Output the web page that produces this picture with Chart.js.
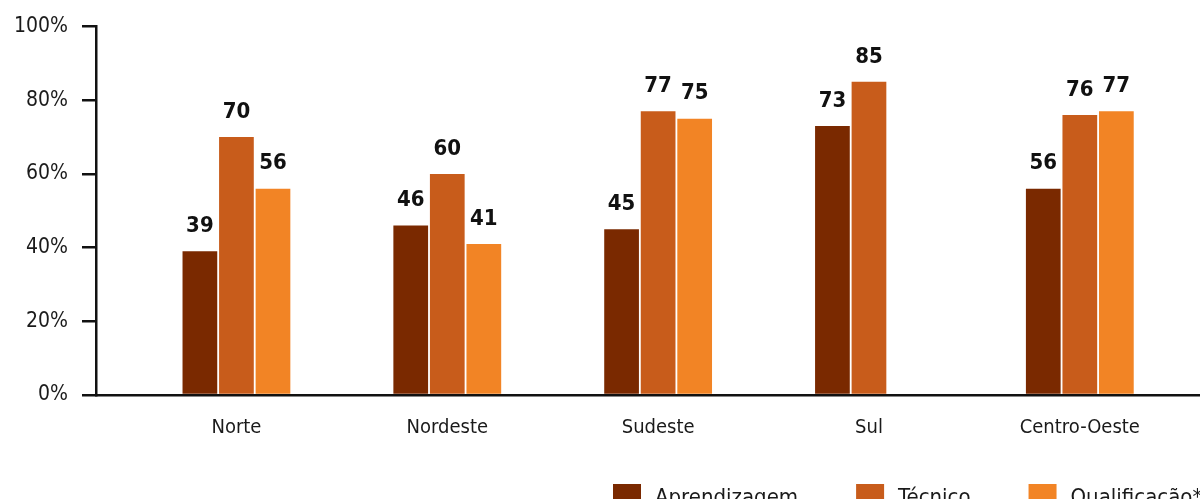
<!DOCTYPE html>
<html lang="pt">
<head>
<meta charset="utf-8">
<script src="https://cdn.jsdelivr.net/npm/chart.js@4"></script>
<style>
  html, body { margin: 0; padding: 0; background: #fff; overflow: hidden; }
  #wrap { width: 1200px; height: 499px; position: relative; }
</style>
</head>
<body>
<div id="wrap"><canvas id="chart"></canvas></div>
<script>
const regions = ['Norte', 'Nordeste', 'Sudeste', 'Sul', 'Centro-Oeste'];
const aprendizagem = [39, 46, 45, 73, 56];
const tecnico = [70, 60, 77, 85, 76];
const qualificacao = [56, 41, 75, null, 77];
const yTicks = [0, 20, 40, 60, 80, 100];

const FONT = "'Liberation Sans Narrow', 'DejaVu Sans Condensed', 'Roboto Condensed', sans-serif";
Chart.defaults.font.family = FONT;
Chart.defaults.color = '#1a1a1a';

const toPoints = arr => arr.map((v, i) => ({ x: i, y: v }));

// value labels above each bar
const barLabels = {
  id: 'barLabels',
  afterDatasetsDraw(chart) {
    const ctx = chart.ctx;
    ctx.save();
    ctx.font = 'bold 22px ' + FONT;
    ctx.fillStyle = '#111';
    ctx.textAlign = 'center';
    ctx.textBaseline = 'bottom';
    chart.data.datasets.forEach((ds, i) => {
      chart.getDatasetMeta(i).data.forEach((bar, j) => {
        const v = ds.data[j].y;
        if (v == null) return;
        ctx.fillText(v, bar.x, bar.y - 14);
      });
    });
    ctx.restore();
  }
};

// legend row at the bottom (partly cut off like the original)
const bottomLegend = {
  id: 'bottomLegend',
  afterDraw(chart) {
    const ctx = chart.ctx;
    ctx.save();
    ctx.font = '22px ' + FONT;
    ctx.textBaseline = 'middle';
    ctx.textAlign = 'left';
    let x = 613;
    const y = 484, box = 28;
    chart.data.datasets.forEach(ds => {
      ctx.fillStyle = ds.backgroundColor;
      ctx.fillRect(x, y, box, box);
      ctx.fillStyle = '#1a1a1a';
      ctx.fillText(ds.label, x + box + 14, y + box / 2);
      x += box + 14 + ctx.measureText(ds.label).width + 58;
    });
    ctx.restore();
  }
};

new Chart(document.getElementById('chart'), {
  type: 'bar',
  data: {
    datasets: [
      { label: 'Aprendizagem', data: toPoints(aprendizagem), backgroundColor: '#7a2900' },
      { label: 'Técnico', data: toPoints(tecnico), backgroundColor: '#c85c1b' },
      { label: 'Qualificação**', data: toPoints(qualificacao), backgroundColor: '#f28425' }
    ]
  },
  options: {
    responsive: true,
    maintainAspectRatio: false,
    animation: false,
    categoryPercentage: 0.52,
    barPercentage: 0.95,
    layout: { padding: { top: 15, bottom: 38, right: 0, left: 0 } },
    plugins: {
      legend: { display: false },
      tooltip: { enabled: false }
    },
    scales: {
      x: {
        type: 'linear',
        offset: false,
        min: -0.666,
        max: 4.57,
        afterBuildTicks(axis) { axis.ticks = regions.map((r, i) => ({ value: i })); },
        grid: { drawOnChartArea: false, drawTicks: false },
        border: { color: '#111', width: 2.5 },
        ticks: { font: { size: 20 }, padding: 21, color: '#1a1a1a', callback: v => regions[v] }
      },
      y: {
        min: 0,
        max: 100,
        afterBuildTicks(axis) { axis.ticks = yTicks.map(v => ({ value: v })); },
        grid: { drawOnChartArea: false, color: '#111', lineWidth: 2.5, tickLength: 14 },
        border: { color: '#111', width: 2.5 },
        ticks: { font: { size: 21 }, padding: 14, color: '#1a1a1a', callback: v => v + '%' }
      }
    }
  },
  plugins: [barLabels, bottomLegend]
});
</script>
</body>
</html>
